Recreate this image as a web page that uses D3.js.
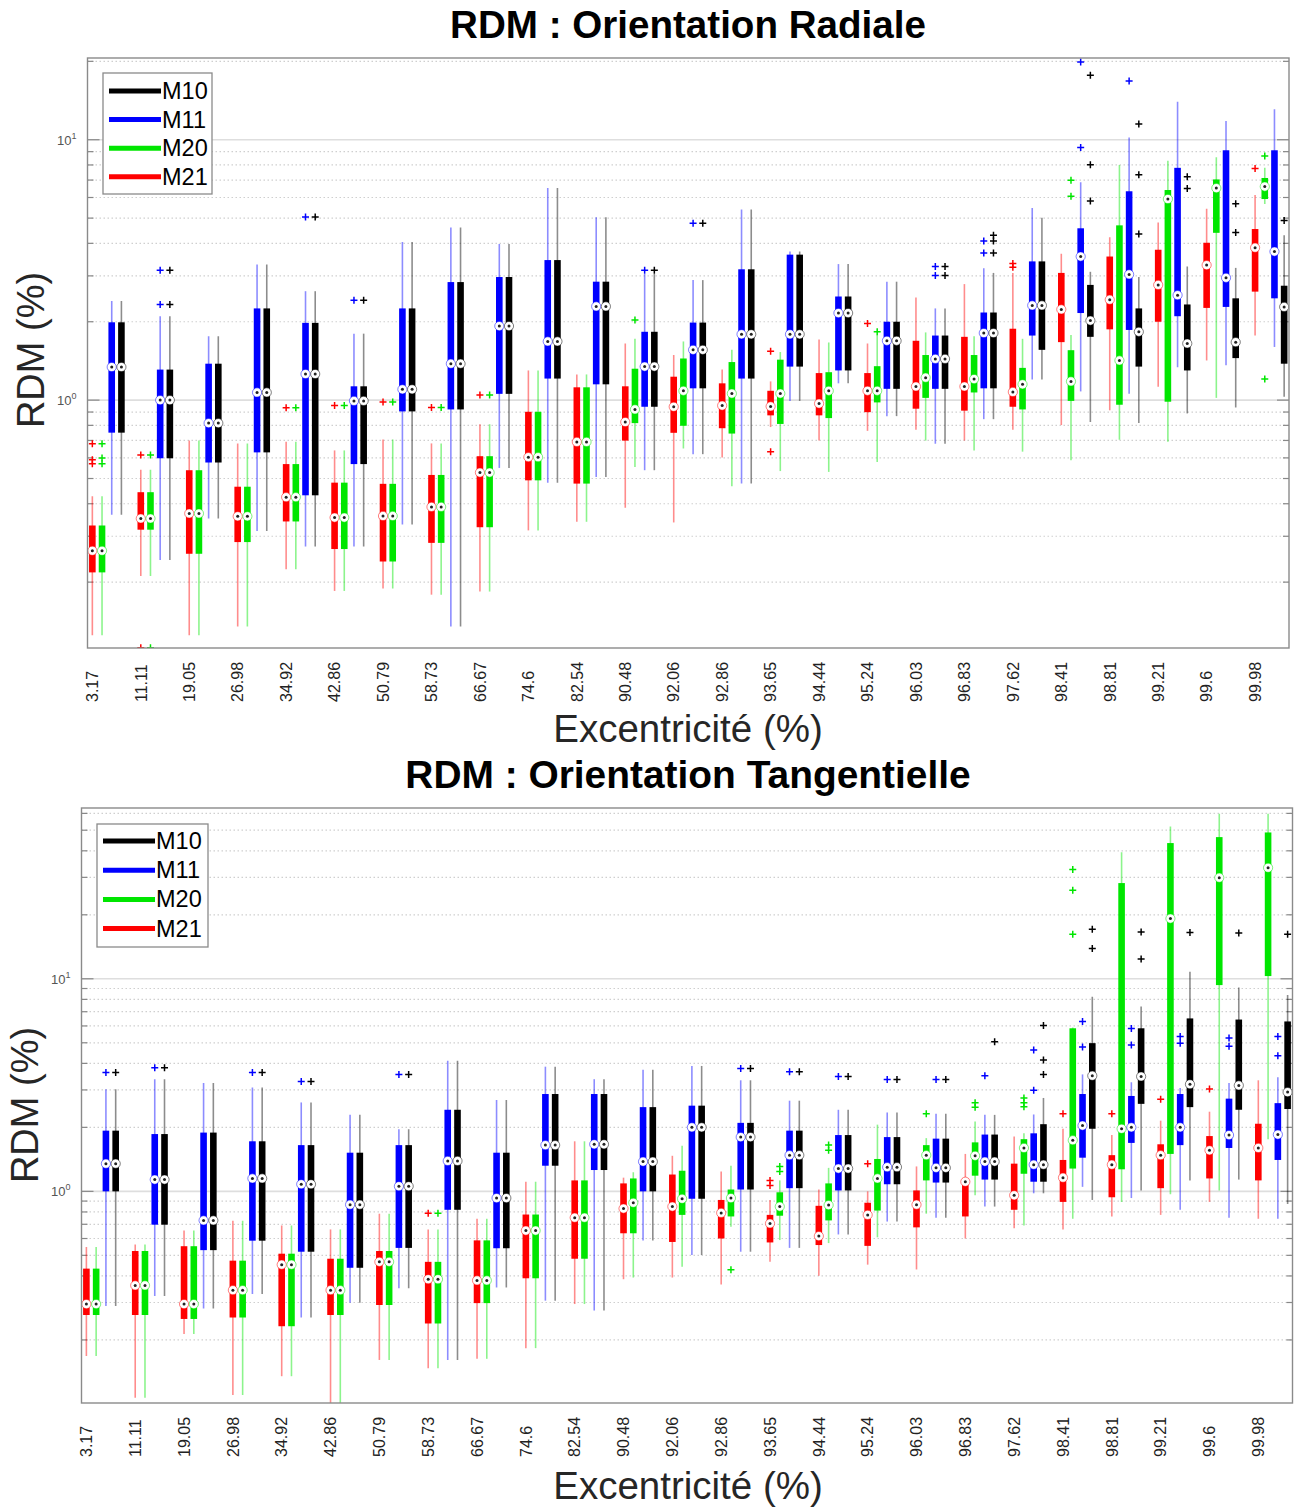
<!DOCTYPE html>
<html><head><meta charset="utf-8">
<script src="https://cdn.jsdelivr.net/npm/d3@7"></script>
<style>body{margin:0;background:#fff}</style>
</head><body>
<svg id="chart" width="1301" height="1508"></svg>
<script>
// ---------------- DATA ----------------
const categories = ["3.17","11.11","19.05","26.98","34.92","42.86","50.79","58.73","66.67","74.6","82.54","90.48","92.06","92.86","93.65","94.44","95.24","96.03","96.83","97.62","98.41","98.81","99.21","99.6","99.98"];
const seriesNames = ["M21","M20","M11","M10"];           // order inside each group (left to right)
const seriesColors = ["#ff0000","#00e600","#0000ff","#000000"];
const legendOrder = ["M10","M11","M20","M21"];
const yTickLabels = ["0","1"];                            // exponents shown as 10^0, 10^1

// stats per category: [whisker low, q1, median, q3, whisker high]
// ---- RDM : Orientation Radiale ----
const radM21 = [[0.125,0.218,0.264,0.33,0.427],[0.211,0.318,0.351,0.443,0.54],[0.125,0.257,0.367,0.538,0.699],[0.135,0.285,0.358,0.465,0.682],[0.224,0.342,0.424,0.568,0.692],[0.185,0.268,0.354,0.482,0.641],[0.189,0.24,0.359,0.477,0.706],[0.179,0.283,0.389,0.516,0.682],[0.184,0.325,0.527,0.609,0.808],[0.316,0.492,0.604,0.902,1.3],[0.341,0.478,0.691,1.12,1.255],[0.386,0.699,0.824,1.13,1.65],[0.339,0.749,0.943,1.23,1.49],[0.602,0.78,0.953,1.16,1.31],[0.788,0.874,0.946,1.086,1.18],[0.699,0.874,0.97,1.27,1.71],[0.762,0.899,1.086,1.27,1.65],[0.77,0.927,1.128,1.69,2.48],[0.699,0.911,1.128,1.75,2.79],[0.77,0.943,1.075,1.88,3.08],[0.802,1.67,2.23,3.08,3.65],[0.914,1.87,2.43,3.56,4.22],[1.125,2.0,2.77,3.78,4.81],[1.42,2.26,3.3,4.02,5.43],[1.77,2.61,3.85,4.54,6.13]];
const radM21Out = [[0.68,0.59,0.57],[0.615,0.112],[],[],[0.934],[0.953],[0.983],[0.937],[1.046],[],[],[],[],[],[1.54,0.634],[],[1.97],[],[],[3.35,3.24],[],[],[],[],[7.75]];
const radM20 = [[0.125,0.218,0.264,0.33,0.427],[0.211,0.318,0.351,0.443,0.54],[0.125,0.257,0.367,0.538,0.699],[0.135,0.285,0.358,0.465,0.682],[0.224,0.342,0.424,0.568,0.692],[0.185,0.268,0.354,0.482,0.641],[0.189,0.24,0.359,0.477,0.706],[0.179,0.283,0.389,0.516,0.682],[0.184,0.325,0.527,0.609,0.808],[0.316,0.492,0.604,0.902,1.3],[0.341,0.478,0.691,1.12,1.255],[0.553,0.816,0.921,1.32,1.72],[0.652,0.797,1.086,1.445,1.68],[0.467,0.744,1.06,1.4,1.56],[0.534,0.81,1.06,1.43,1.53],[0.53,0.853,1.086,1.28,1.665],[0.578,0.98,1.086,1.35,1.78],[0.699,1.02,1.22,1.49,1.82],[0.641,1.07,1.205,1.49,1.76],[0.634,0.921,1.15,1.33,1.72],[0.588,0.993,1.18,1.555,1.78],[0.704,0.96,1.42,4.69,8.0],[0.692,0.986,5.92,6.41,8.3],[1.02,4.39,6.52,7.04,8.56],[5.66,5.92,6.61,7.13,7.8]];
const radM20Out = [[0.68,0.6,0.57],[0.615,0.112],[],[],[0.934],[0.953],[0.983],[0.937],[1.046],[],[],[2.03],[],[],[],[],[1.83],[],[],[],[6.99,6.07],[],[],[],[8.66,1.205]];
const radM11 = [[0.363,0.75,1.34,1.99,2.4],[0.243,0.598,1.0,1.31,2.1],[0.351,0.576,0.816,1.38,1.76],[0.314,0.63,1.07,2.25,3.32],[0.274,0.431,1.26,1.98,2.62],[0.274,0.568,0.993,1.13,1.8],[0.333,0.905,1.1,2.25,4.05],[0.135,0.921,1.38,2.84,4.6],[0.549,1.057,1.925,2.97,3.98],[0.482,1.21,1.68,3.45,6.52],[0.507,1.15,2.29,2.85,5.04],[0.538,0.943,1.345,1.83,3.05],[0.62,1.11,1.56,1.985,2.89],[0.478,1.21,1.79,3.18,5.4],[0.993,1.345,1.79,3.62,3.72],[1.16,1.3,2.16,2.5,3.33],[0.868,1.105,1.69,2.0,2.85],[0.68,1.105,1.44,1.77,2.25],[0.845,1.11,1.81,2.17,3.21],[1.2,1.77,2.31,3.41,5.47],[1.08,2.16,3.56,4.57,6.87],[1.057,1.86,3.04,6.34,10.2],[1.336,2.1,2.53,7.8,14.0],[1.36,2.28,2.95,9.11,11.8],[1.6,2.46,3.72,9.11,13.1]];
const radM11Out = [[],[3.15,2.33],[],[],[5.05],[2.42],[],[],[],[],[],[3.15],[4.78],[],[],[],[],[3.26,3.01],[4.08,3.67],[],[19.9,9.33],[16.8],[],[],[]];
const radM10 = [[0.363,0.75,1.34,1.99,2.4],[0.243,0.598,1.0,1.31,2.1],[0.351,0.576,0.816,1.38,1.76],[0.314,0.63,1.07,2.25,3.32],[0.274,0.431,1.26,1.98,2.62],[0.274,0.568,0.993,1.13,1.8],[0.333,0.905,1.1,2.25,4.05],[0.135,0.921,1.38,2.84,4.6],[0.549,1.057,1.925,2.97,3.98],[0.482,1.21,1.68,3.45,6.52],[0.507,1.15,2.29,2.85,5.04],[0.538,0.943,1.345,1.83,3.05],[0.62,1.11,1.56,1.985,2.89],[0.478,1.21,1.79,3.18,5.4],[0.993,1.345,1.79,3.62,3.72],[1.16,1.3,2.16,2.5,3.33],[0.868,1.105,1.69,2.0,2.85],[0.68,1.105,1.44,1.77,2.25],[0.845,1.11,1.81,2.17,3.08],[1.2,1.56,2.31,3.41,5.02],[0.824,1.75,2.02,2.77,3.11],[0.816,1.345,1.83,2.25,2.97],[0.889,1.3,1.65,2.33,3.26],[0.937,1.45,1.67,2.46,3.22],[1.03,1.38,2.28,2.75,4.3]];
const radM10Out = [[],[3.15,2.33],[],[],[5.05],[2.42],[],[],[],[],[],[3.15],[4.78],[],[],[],[],[3.26,3.01],[4.3,4.08,3.67],[],[17.7,8.02,5.82],[11.5,7.33,4.34],[7.21,6.5],[5.68,4.4],[4.9]];

// ---- RDM : Orientation Tangentielle ----
const tanM21 = [[0.168,0.262,0.295,0.433,0.547],[0.107,0.262,0.361,0.524,0.563],[0.213,0.251,0.295,0.552,0.654],[0.11,0.255,0.343,0.472,0.727],[0.135,0.232,0.452,0.509,0.691],[0.095,0.262,0.343,0.482,0.662],[0.161,0.292,0.466,0.524,0.785],[0.147,0.239,0.386,0.466,0.662],[0.163,0.298,0.381,0.588,0.743],[0.183,0.39,0.654,0.778,1.11],[0.295,0.482,0.752,1.126,1.72],[0.386,0.635,0.83,1.09,1.16],[0.393,0.578,0.848,1.2,1.47],[0.365,0.6,0.792,0.911,1.24],[0.466,0.575,0.706,0.775,0.911],[0.401,0.559,0.616,0.855,1.02],[0.452,0.554,0.775,0.884,1.0],[0.429,0.677,0.866,1.01,1.31],[0.6,0.762,1.11,1.15,1.5],[0.671,0.819,0.958,1.35,1.81],[0.662,0.892,1.16,1.405,1.97],[0.762,0.938,1.335,1.48,1.84],[0.775,1.035,1.48,1.665,2.15],[0.892,1.15,1.56,1.82,2.37],[0.743,1.126,1.6,2.08,3.33]];
const tanM21Out = [[],[],[],[],[],[],[],[0.788],[],[],[],[],[],[],[1.126,1.066],[],[1.35],[],[],[],[2.32],[2.32],[2.71],[3.03],[]];
const tanM20 = [[0.168,0.262,0.295,0.433,0.547],[0.107,0.262,0.361,0.524,0.563],[0.213,0.251,0.295,0.552,0.654],[0.11,0.255,0.343,0.472,0.727],[0.135,0.232,0.452,0.509,0.691],[0.095,0.262,0.343,0.482,0.662],[0.161,0.292,0.466,0.524,0.785],[0.147,0.239,0.386,0.466,0.662],[0.163,0.298,0.381,0.588,0.743],[0.183,0.39,0.654,0.778,1.11],[0.295,0.482,0.752,1.126,1.72],[0.393,0.635,0.884,1.15,1.23],[0.442,0.775,0.923,1.25,1.64],[0.682,0.762,0.93,1.02,1.32],[0.59,0.768,0.848,0.99,1.126],[0.571,0.73,0.862,1.09,1.29],[0.608,0.812,1.15,1.42,2.06],[0.785,1.126,1.48,1.65,1.78],[0.958,1.185,1.47,1.7,2.13],[0.691,1.21,1.6,1.76,1.875],[0.743,1.28,1.74,5.85,5.9],[0.892,1.27,1.97,28.2,39.4],[0.97,1.5,19.2,43.5,52],[1.01,9.34,29.9,46.4,59.8],[1.76,10.3,33.3,48.8,59.8]];
const tanM20Out = [[],[],[],[],[],[],[],[0.788],[],[],[],[],[],[0.428],[1.31,1.24],[1.65,1.56],[],[2.32],[2.61,2.49],[2.75,2.61,2.5],[32.7,26.1,16.2],[],[],[],[]];
const tanM11 = [[0.289,1.0,1.35,1.93,3.02],[0.322,0.697,1.136,1.86,3.37],[0.281,0.529,0.73,1.89,3.23],[0.329,0.586,1.15,1.72,3.08],[0.255,0.52,1.08,1.65,2.62],[0.299,0.437,0.866,1.52,2.29],[0.35,0.542,1.057,1.65,1.96],[0.161,0.819,1.39,2.42,4.12],[0.353,0.54,0.93,1.52,2.69],[0.306,1.32,1.65,2.87,3.86],[0.275,1.26,1.665,2.87,3.37],[0.588,1.0,1.38,2.49,3.73],[0.502,0.923,2.0,2.53,3.89],[0.52,1.02,1.8,2.1,3.33],[0.542,1.035,1.48,1.93,2.67],[0.627,1.01,1.28,1.84,2.42],[0.721,1.08,1.3,1.8,2.35],[0.752,1.1,1.29,1.77,2.32],[0.848,1.136,1.38,1.85,2.29],[0.979,1.11,1.335,1.875,2.3],[1.05,1.44,2.04,2.87,3.55],[0.93,1.69,2.0,2.81,3.26],[0.819,1.65,2.0,2.87,3.06],[0.752,1.6,1.84,2.73,3.23],[0.743,1.405,1.85,2.6,3.44]];
const tanM11Out = [[3.62],[3.81],[],[3.62],[3.29],[],[3.55],[],[],[],[],[],[],[3.78],[3.65],[3.47],[3.36],[3.36],[3.5],[4.62,2.99],[6.3,4.78],[5.83,4.88],[5.35,4.98],[5.27,4.82],[5.35,4.35]];
const tanM10 = [[0.289,1.0,1.35,1.93,3.02],[0.322,0.697,1.136,1.86,3.37],[0.281,0.529,0.73,1.89,3.23],[0.329,0.586,1.15,1.72,3.08],[0.255,0.52,1.08,1.65,2.62],[0.299,0.437,0.866,1.52,2.29],[0.35,0.542,1.057,1.65,1.96],[0.161,0.819,1.39,2.42,4.12],[0.353,0.54,0.93,1.52,2.69],[0.306,1.32,1.65,2.87,3.86],[0.275,1.26,1.665,2.87,3.37],[0.588,1.0,1.38,2.49,3.73],[0.502,0.923,2.0,2.53,3.89],[0.52,1.02,1.8,2.1,3.33],[0.542,1.035,1.48,1.93,2.67],[0.627,1.01,1.28,1.84,2.42],[0.721,1.08,1.3,1.8,2.35],[0.752,1.1,1.29,1.77,2.32],[0.848,1.136,1.38,1.85,2.29],[0.979,1.11,1.335,2.07,2.75],[0.911,1.97,3.5,4.98,8.23],[1.01,2.58,3.47,5.85,7.4],[1.126,2.49,3.19,6.51,10.8],[1.136,2.42,3.15,6.43,9.1],[0.873,2.44,2.93,6.3,8.4]];
const tanM10Out = [[3.62],[3.81],[],[3.62],[3.29],[],[3.55],[],[],[],[],[],[],[3.78],[3.65],[3.47],[3.36],[3.36],[5.05],[6.03,4.15,3.55],[17.1,13.9],[16.6,12.4],[16.5],[16.4],[16.2]];

// ---------------- DRAWING ----------------
const FONT = "'Liberation Sans', Arial, Helvetica, sans-serif";
const svg = d3.select("#chart");
svg.append("rect").attr("width",1301).attr("height",1508).attr("fill","#fff");

function panel(o){
  const g = svg.append("g");
  const x = d3.scaleLinear().domain([-0.5, 123.5]).range([o.left, o.right]);
  const y = d3.scaleLog().domain(o.yDomain).range([o.bottom, o.top]);
  const clipId = "clip" + o.id;
  g.append("clipPath").attr("id", clipId).append("rect")
    .attr("x", o.left).attr("y", o.top).attr("width", o.right-o.left).attr("height", o.bottom-o.top);

  // grid lines (log major/minor)
  const gridVals = [];
  for (let k=-2;k<=2;k++) for (let m=1;m<=9;m++){ const v=m*Math.pow(10,k); if (v>=o.yDomain[0] && v<=o.yDomain[1]) gridVals.push({v, major:m===1}); }
  const grid = g.append("g");
  grid.selectAll("line").data(gridVals).join("line")
    .attr("x1", o.left).attr("x2", o.right)
    .attr("y1", d=>y(d.v)).attr("y2", d=>y(d.v))
    .attr("stroke", d=>d.major? "#dedede":"#cfcfcf")
    .attr("stroke-width", d=>d.major?1.6:1.2)
    .attr("stroke-dasharray", d=>d.major? null : "1.5,2.5");

  // y ticks both sides
  const ticks = g.append("g").attr("stroke","#888").attr("stroke-width",1.2);
  ticks.selectAll("line.l").data(gridVals).join("line").attr("class","l")
    .attr("x1", o.left).attr("x2", d=>o.left+(d.major?12:6)).attr("y1", d=>y(d.v)).attr("y2", d=>y(d.v));
  ticks.selectAll("line.r").data(gridVals).join("line").attr("class","r")
    .attr("x1", o.right).attr("x2", d=>o.right-(d.major?12:6)).attr("y1", d=>y(d.v)).attr("y2", d=>y(d.v));

  // y tick labels 10^k
  yTickLabels.forEach(e=>{
    const t = g.append("text").attr("x", o.left-11).attr("y", y(Math.pow(10,+e))+5)
      .attr("text-anchor","end").attr("font-family",FONT).attr("font-size",13).attr("fill","#555");
    t.append("tspan").text("10");
    t.append("tspan").attr("dy",-6).attr("font-size",9).text(e);
  });

  // boxes
  const plot = g.append("g").attr("clip-path", `url(#${clipId})`);
  const statsList = o.stats, outList = o.outs;
  const boxes = [];
  categories.forEach((c,i)=>{
    seriesNames.forEach((s,j)=>{
      boxes.push({slot:5*i+j, color:seriesColors[j], st:statsList[j][i], out:outList[j][i]});
    });
  });
  const bg = plot.selectAll("g.box").data(boxes).join("g").attr("class","box");
  bg.append("line")
    .attr("x1", d=>x(d.slot)).attr("x2", d=>x(d.slot))
    .attr("y1", d=>y(d.st[0])).attr("y2", d=>y(d.st[4]))
    .attr("stroke", d=>d.color).attr("stroke-opacity",0.45).attr("stroke-width",1.6);
  bg.append("rect")
    .attr("x", d=>x(d.slot)-3.3).attr("width",6.6)
    .attr("y", d=>y(d.st[3])).attr("height", d=>Math.max(1,y(d.st[1])-y(d.st[3])))
    .attr("fill", d=>d.color);
  bg.each(function(d){
    d3.select(this).selectAll("path.out").data(d.out).join("path").attr("class","out")
      .attr("d", v=>{const cx=x(d.slot), cy=y(v); return `M${cx-3.5},${cy}H${cx+3.5}M${cx},${cy-3.5}V${cy+3.5}`;})
      .attr("stroke", d.color).attr("stroke-width",1.5).attr("fill","none");
  });
  bg.append("circle").attr("cx", d=>x(d.slot)).attr("cy", d=>y(d.st[2])).attr("r",4.6)
    .attr("fill","#fff").attr("stroke", d=>d.color).attr("stroke-opacity",0.5).attr("stroke-width",1);
  bg.append("circle").attr("cx", d=>x(d.slot)).attr("cy", d=>y(d.st[2])).attr("r",1.5).attr("fill","#222");

  // frame
  g.append("rect").attr("x",o.left).attr("y",o.top).attr("width",o.right-o.left).attr("height",o.bottom-o.top)
    .attr("fill","none").attr("stroke","#8a8a8a").attr("stroke-width",1.4);

  // x tick labels (rotated, start-aligned at a common baseline below the axis)
  g.selectAll("text.xt").data(categories).join("text").attr("class","xt")
    .attr("transform",(d,i)=>`translate(${x(5*i)},${o.bottom+54}) rotate(-90)`)
    .attr("dy","0.36em").attr("text-anchor","start")
    .attr("font-family",FONT).attr("font-size",16).attr("fill","#222").text(d=>d);

  // titles / labels
  g.append("text").attr("x",688).attr("y",o.titleY).attr("text-anchor","middle")
    .attr("font-family",FONT).attr("font-weight","bold").attr("font-size",o.titleSize).attr("fill","#000").text(o.title);
  g.append("text").attr("x",688).attr("y",o.xlabY).attr("text-anchor","middle")
    .attr("font-family",FONT).attr("font-size",38.5).attr("fill","#262626").text("Excentricité (%)");
  g.append("text").attr("transform",`translate(${o.ylabX},${o.ylabY}) rotate(-90)`).attr("text-anchor","middle")
    .attr("font-family",FONT).attr("font-size",38).attr("fill","#262626").text("RDM (%)");

  // legend
  const L = o.legend;
  const lg = g.append("g");
  lg.append("rect").attr("x",L.x).attr("y",L.y).attr("width",L.w).attr("height",L.h)
    .attr("fill","#fff").attr("stroke","#8a8a8a").attr("stroke-width",1.3);
  legendOrder.forEach((n,k)=>{
    const col = seriesColors[seriesNames.indexOf(n)];
    const yy = L.y + L.first + k*L.step;
    lg.append("line").attr("x1",L.x+6).attr("x2",L.x+58).attr("y1",yy).attr("y2",yy)
      .attr("stroke",col).attr("stroke-width",5);
    lg.append("text").attr("x",L.x+59).attr("y",yy+8).attr("font-family",FONT).attr("font-size",23.5)
      .attr("fill","#000").text(n);
  });
}

panel({id:"rad", left:87.5, right:1289, top:58, bottom:648, yDomain:[0.1117,20.6],
  stats:[radM21,radM20,radM11,radM10], outs:[radM21Out,radM20Out,radM11Out,radM10Out],
  title:"RDM : Orientation Radiale", titleSize:38.6, titleY:38, xlabY:742, ylabX:44, ylabY:350,
  legend:{x:103,y:73,w:109,h:121,first:18,step:28.6}});
panel({id:"tan", left:81.5, right:1292.5, top:808, bottom:1403, yDomain:[0.101,63.6],
  stats:[tanM21,tanM20,tanM11,tanM10], outs:[tanM21Out,tanM20Out,tanM11Out,tanM10Out],
  title:"RDM : Orientation Tangentielle", titleSize:38.9, titleY:788, xlabY:1499, ylabX:38, ylabY:1105,
  legend:{x:97,y:824,w:111,h:123,first:17,step:29.2}});
</script>
</body></html>
